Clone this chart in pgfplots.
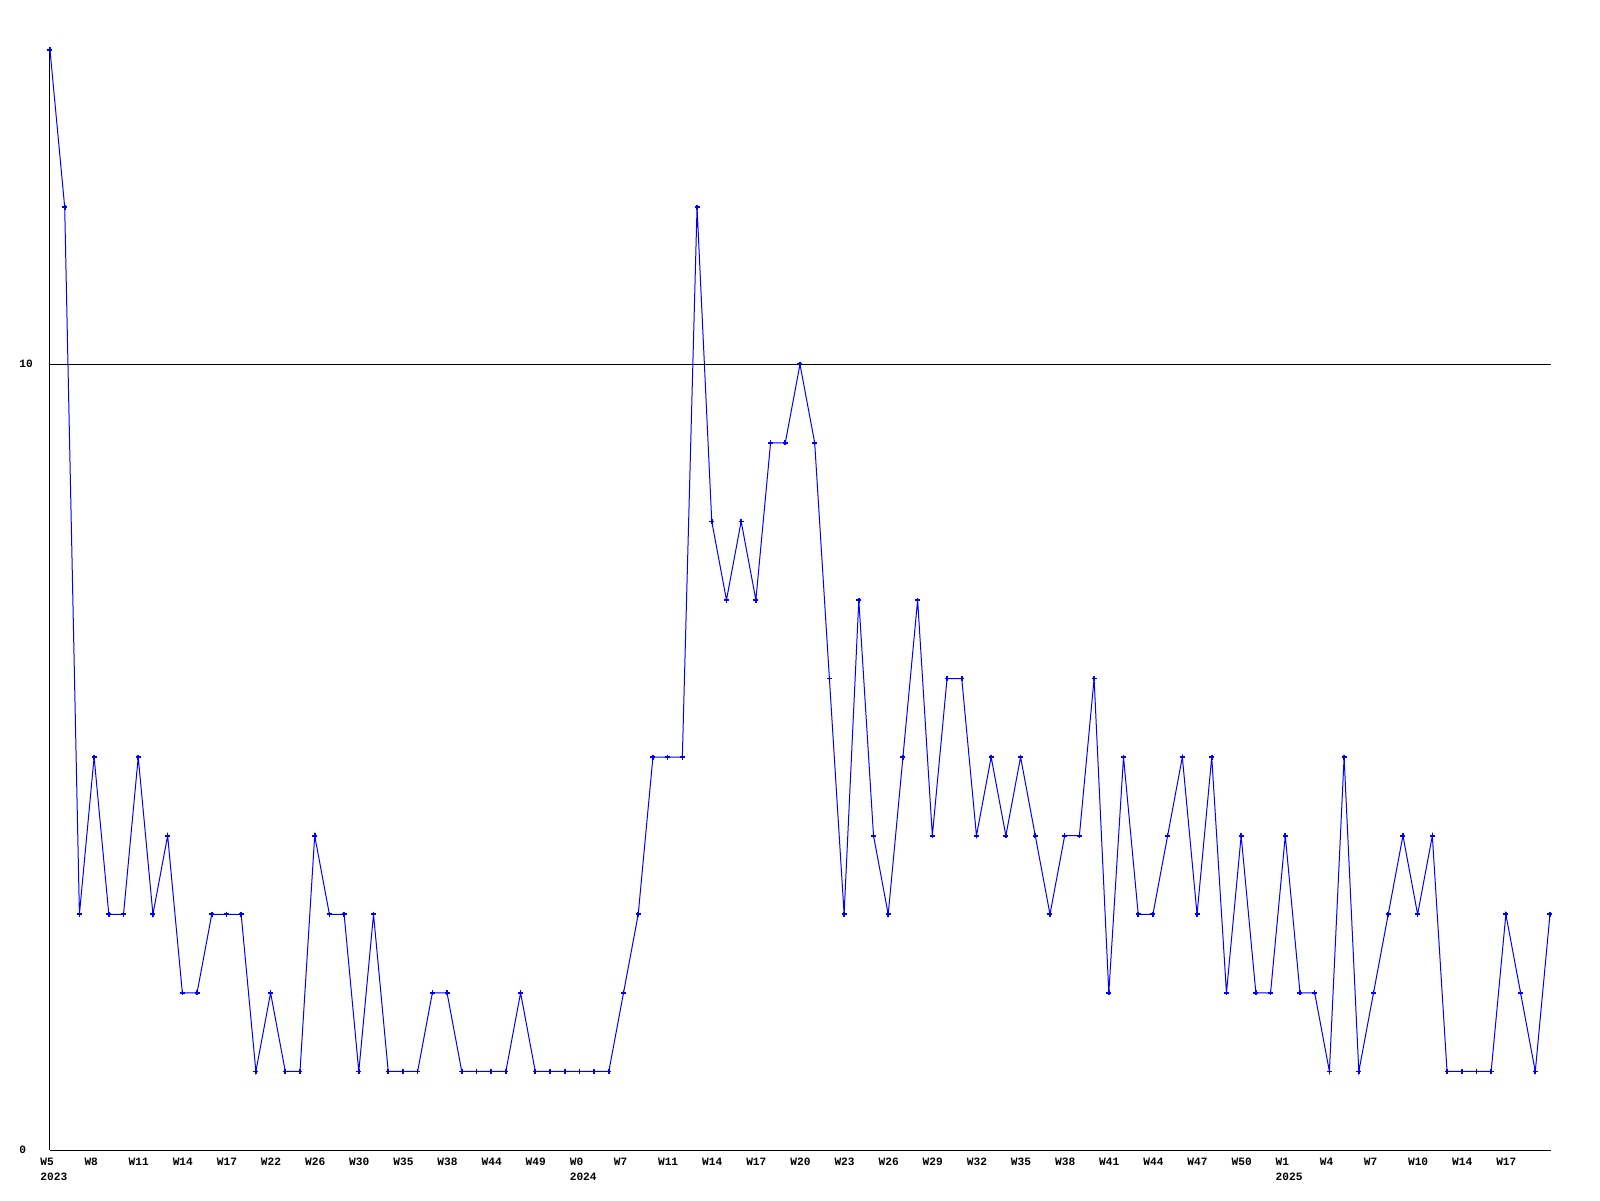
\documentclass[border=0pt]{standalone}
\usepackage{fontspec}
\setmonofont{Liberation Mono}
\usepackage{pgfplots}
\pgfplotsset{compat=1.18}
\begin{document}
\begin{tikzpicture}
\path[use as bounding box] (-25pt,-25pt) rectangle (775pt,575pt);
\begin{axis}[
  at={(0,0)}, anchor=south west,
  scale only axis, width=750.5pt, height=550pt,
  xmin=0, xmax=102.07, ymin=0, ymax=14,
  axis x line*=bottom, axis y line*=left,
  axis line style={-, line width=0.5pt, black},
  major tick length=0pt,
  xtick={0,3,...,99},
  xticklabels={{W5\\2023},W8,W11,W14,W17,W22,W26,W30,W35,W38,W44,W49,{W0\\2024},W7,W11,W14,W17,W20,W23,W26,W29,W32,W35,W38,W41,W44,W47,W50,{W1\\2025},W4,W7,W10,W14,W17},
  xticklabel style={font=\ttfamily\bfseries\fontsize{5.6}{7.5}\selectfont, anchor=north west, align=left, inner sep=0pt, xshift=-5pt, yshift=-4pt},
  ytick={0,10}, yticklabels={0,10},
  yticklabel style={font=\ttfamily\bfseries\fontsize{5.6}{7.5}\selectfont, anchor=west, inner sep=0pt, xshift=-15.5pt},
  ymajorgrids, major grid style={black, line width=0.5pt},
  clip=false,
]
\addplot[blue, line width=0.5pt, mark=+, mark size=1.25pt, mark options={line width=0.8pt}] table[x=i, y=v] {
i v
0 14
1 12
2 3
3 5
4 3
5 3
6 5
7 3
8 4
9 2
10 2
11 3
12 3
13 3
14 1
15 2
16 1
17 1
18 4
19 3
20 3
21 1
22 3
23 1
24 1
25 1
26 2
27 2
28 1
29 1
30 1
31 1
32 2
33 1
34 1
35 1
36 1
37 1
38 1
39 2
40 3
41 5
42 5
43 5
44 12
45 8
46 7
47 8
48 7
49 9
50 9
51 10
52 9
53 6
54 3
55 7
56 4
57 3
58 5
59 7
60 4
61 6
62 6
63 4
64 5
65 4
66 5
67 4
68 3
69 4
70 4
71 6
72 2
73 5
74 3
75 3
76 4
77 5
78 3
79 5
80 2
81 4
82 2
83 2
84 4
85 2
86 2
87 1
88 5
89 1
90 2
91 3
92 4
93 3
94 4
95 1
96 1
97 1
98 1
99 3
100 2
101 1
102 3
};
\end{axis}
\end{tikzpicture}
\end{document}
